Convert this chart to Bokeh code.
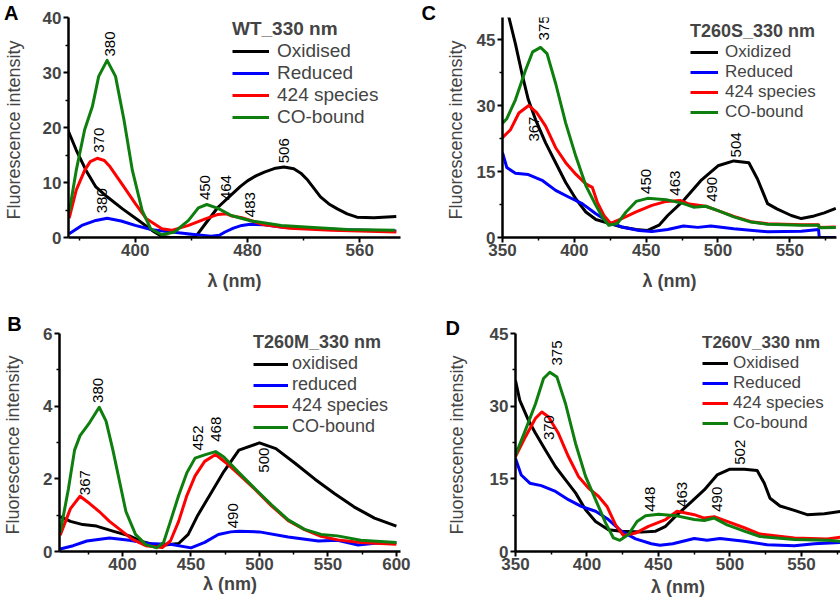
import math
from bokeh.plotting import figure
from bokeh.models import (Legend, LegendItem, LabelSet, Label, ColumnDataSource,
                          FixedTicker, Range1d)
from bokeh.core.properties import value
from bokeh.layouts import column, row
from bokeh.embed import file_html
from bokeh.resources import INLINE

# ---------------- data ----------------
# Panel A : WT_330 nm
A_ox_x = [352, 358, 365, 372, 380, 391, 402.5, 412, 419, 425, 435, 443, 450, 459, 469, 475, 480, 486, 492, 500, 506, 513, 518, 523, 532, 538, 544, 551, 558, 570, 586]
A_ox_y = [19.6, 15.9, 12.2, 9.2, 7.4, 5.2, 3.1, 1.3, 0.2, 0.0, 0.0, 0.1, 2.5, 5.5, 7.9, 9.3, 10.3, 11.2, 11.9, 12.6, 12.8, 12.5, 11.7, 10.4, 7.4, 6.1, 5.2, 4.3, 3.7, 3.6, 3.8]
A_red_x = [353, 358, 364, 368, 373, 378, 382, 392, 400, 408, 419, 426, 438, 450, 459, 465, 469, 476, 492, 510, 540, 586]
A_red_y = [3.5, 8.6, 12.2, 13.8, 14.4, 14.0, 12.9, 9.2, 6.2, 3.4, 1.6, 1.3, 2.2, 3.4, 4.2, 4.3, 3.9, 3.6, 2.3, 1.7, 1.3, 1.0]
A_blue_x = [353, 362, 372, 380, 390, 400, 412, 426, 442, 454, 460, 464, 470, 476, 482, 492, 504, 520, 550, 586]
A_blue_y = [0.7, 2.2, 3.1, 3.5, 3.0, 2.2, 1.4, 1.0, 0.55, 0.25, 0.4, 1.0, 1.7, 2.2, 2.4, 2.3, 1.9, 1.7, 1.4, 1.2]
A_co_x = [353, 358, 364, 369.5, 374, 380, 386, 392, 398, 405, 411, 419, 428, 438, 445, 451, 459, 468.5, 475.5, 483, 504, 527, 551, 585]
A_co_y = [4.6, 12.2, 19.6, 23.8, 29.3, 32.2, 29.3, 21.4, 12.2, 4.9, 1.6, 0.5, 1.0, 3.1, 5.4, 6.0, 5.3, 4.0, 3.5, 3.0, 2.2, 1.8, 1.45, 1.3]
A_peak_x = [382, 374.4, 376.5, 449.4, 465, 482, 506]
A_peak_y = [32.9, 15.4, 4.4, 6.8, 6.8, 3.7, 13.5]
A_peak_text = ["380", "370", "380", "450", "464", "483", "506"]
A_labels = ["Oxidised", "Reduced", "424 species", "CO-bound"]

# Panel C : T260S_330 nm
C_ox_x = [350, 354.5, 359, 364, 368, 373, 380, 387, 394, 401, 408, 415, 424, 433, 443, 451, 459, 465, 476, 488, 500, 511, 521.5, 527.5, 534.5, 541, 551, 558, 567, 574, 582]
C_ox_y = [56, 50, 44, 36.6, 31.3, 26.8, 21.5, 17, 12.5, 8.8, 5.8, 4.1, 3.2, 2.4, 1.8, 1.6, 2.8, 5.0, 8.4, 12.9, 16.3, 17.4, 17.0, 13.3, 7.7, 6.5, 5.0, 4.3, 4.9, 5.6, 6.6]
C_red_x = [350, 355.6, 361.4, 368.3, 374, 380, 387, 394, 401, 408, 412.5, 416, 420.6, 425.3, 433, 443, 454, 464, 474, 480, 491.5, 500, 511, 523, 534.5, 558, 570, 570.5, 582]
C_red_y = [22.7, 24.5, 28.3, 30.0, 28.3, 25.3, 20.4, 17.0, 14.4, 12.2, 11.4, 8.0, 5.0, 3.2, 4.3, 5.8, 7.3, 8.2, 8.4, 7.6, 7.1, 6.1, 4.8, 3.6, 3.1, 2.9, 2.9, 2.3, 2.4]
C_blue_x = [350, 353, 359, 368, 378, 387, 396, 405.5, 415, 424, 433, 445, 454, 465, 476, 486, 495, 511, 534.5, 558, 570, 570.5, 582]
C_blue_y = [19.3, 15.9, 14.6, 14.3, 12.9, 10.7, 9.2, 7.7, 5.4, 3.5, 2.4, 1.6, 1.35, 1.8, 2.6, 2.3, 2.6, 2.0, 1.3, 1.4, 1.8, 0.0, 0.0]
C_co_x = [350, 353, 359, 366, 371, 376.5, 381, 387, 394, 401, 408, 415, 420, 424, 430, 436, 443, 451, 464, 476, 483, 491.5, 500, 511, 523, 534.5, 558, 570, 570.5, 582]
C_co_y = [26, 27, 31.3, 38, 42.2, 43.2, 41.8, 35, 26, 18.5, 11.8, 7.3, 4.4, 2.8, 3.2, 5.8, 8.2, 8.9, 8.6, 7.7, 6.9, 7.1, 6.1, 4.7, 3.5, 3.0, 2.8, 2.8, 2.2, 2.3]
C_peak_x = [378.8, 371.8, 449.7, 469.9, 496, 512.4]
C_peak_y = [44.8, 21.8, 9.9, 9.5, 8.1, 18.2]
C_peak_text = ["375", "367", "450", "463", "490", "504"]
C_labels = ["Oxidized", "Reduced", "424 species", "CO-bound"]

# Panel B : T260M_330 nm
B_ox_x = [354.5, 362, 371, 381, 393, 405, 414, 426, 441, 448, 455, 465, 474, 485, 500, 512, 526, 540.5, 555, 569, 584, 600]
B_ox_y = [0.96, 0.83, 0.74, 0.7, 0.56, 0.43, 0.28, 0.16, 0.22, 0.47, 1.0, 1.63, 2.2, 2.79, 2.99, 2.83, 2.43, 1.99, 1.59, 1.23, 0.92, 0.7]
B_red_x = [354.5, 362, 369, 376, 383, 390.5, 398, 407, 417, 429, 435, 441, 447, 453, 460, 468, 476, 485, 497, 509, 521, 533, 545, 557, 574, 600]
B_red_y = [0.45, 1.18, 1.52, 1.32, 1.1, 0.83, 0.61, 0.34, 0.16, 0.11, 0.29, 0.83, 1.54, 2.08, 2.48, 2.67, 2.43, 2.12, 1.7, 1.25, 0.85, 0.6, 0.42, 0.32, 0.25, 0.2]
B_blue_x = [354.5, 364, 374, 390.5, 405, 419, 436, 450, 460, 470, 479, 485, 500, 521, 543, 557, 572, 584, 600]
B_blue_y = [0.07, 0.16, 0.29, 0.37, 0.31, 0.22, 0.19, 0.1, 0.25, 0.47, 0.54, 0.56, 0.54, 0.4, 0.29, 0.31, 0.18, 0.23, 0.25]
B_co_x = [354.5, 360.5, 365, 369, 376, 383, 388, 393, 398, 402.5, 409.5, 417, 425, 430, 435, 441, 447, 453, 460, 468, 474, 485, 497, 509, 521, 533, 545, 557, 574, 600]
B_co_y = [0.52, 1.72, 2.79, 3.19, 3.55, 3.97, 3.59, 2.79, 1.9, 1.1, 0.47, 0.19, 0.1, 0.25, 0.83, 1.54, 2.17, 2.57, 2.66, 2.75, 2.6, 2.17, 1.72, 1.28, 0.87, 0.61, 0.47, 0.43, 0.31, 0.25]
B_peak_x = [382.3, 372.7, 455.4, 468.6, 503.4, 480.6]
B_peak_y = [4.09, 1.55, 2.78, 3.02, 2.17, 0.64]
B_peak_text = ["380", "367", "452", "468", "500", "490"]
B_labels = ["oxidised", "reduced", "424 species", "CO-bound"]

# Panel D : T260V_330 nm
D_ox_x = [350, 353, 359, 364, 371, 378, 385, 392, 399, 406, 415, 424, 438, 448, 455, 462, 472, 482, 491, 500, 510, 519, 524, 528, 535, 545, 554, 566, 578]
D_ox_y = [35.3, 31.2, 27.1, 24.4, 20.9, 17.5, 14.8, 12.1, 8.6, 6.2, 4.5, 4.2, 4.0, 4.2, 5.2, 7.3, 10.0, 12.7, 15.8, 17.0, 17.0, 16.7, 14.1, 11.0, 9.4, 8.5, 7.6, 7.8, 8.3]
D_red_x = [350, 357, 364, 368.4, 373, 380, 387, 394, 401, 408, 414, 420, 425.5, 434, 443, 455, 463, 475, 482, 489, 498, 510, 521, 545, 568, 578]
D_red_y = [19.6, 23.7, 27.5, 28.8, 27.8, 24.4, 19.6, 15.5, 13.1, 11.4, 9.3, 5.5, 3.3, 3.8, 5.2, 6.6, 8.3, 7.6, 6.9, 7.2, 6.2, 4.9, 3.6, 2.8, 2.6, 3.0]
D_blue_x = [350, 354, 360, 368, 378, 387, 396, 406, 415, 424, 434, 445, 451, 460, 475, 484, 493, 510, 526, 545, 559, 578]
D_blue_y = [19.2, 15.8, 14.1, 13.6, 12.4, 10.7, 9.3, 8.3, 6.6, 4.2, 2.6, 1.6, 1.3, 1.6, 2.7, 2.3, 2.7, 2.1, 1.4, 1.2, 1.6, 1.9]
D_co_x = [350, 357, 364, 369.6, 374, 379, 385, 392, 399, 406, 413, 418.5, 423, 429, 435, 441, 450, 462, 475, 482, 489, 498, 510, 521, 545, 568, 578]
D_co_y = [19.9, 25.1, 30.5, 35.7, 37.0, 36.0, 30.5, 22.3, 15.5, 10.7, 5.9, 2.8, 2.3, 3.5, 6.2, 7.4, 7.7, 7.4, 6.6, 6.4, 6.9, 5.5, 4.2, 3.1, 2.5, 2.3, 2.1]
D_peak_x = [379.1, 373.3, 443.9, 466.6, 491, 507.3]
D_peak_y = [38.4, 23, 8.2, 9.2, 8.2, 17.9]
D_peak_text = ["375", "370", "448", "463", "490", "502"]
D_labels = ["Oxidised", "Reduced", "424 species", "Co-bound"]

COLORS = ["#000000", "#0000ff", "#ff0000", "#0e7f0e"]
FONT = "Liberation Sans"


def panel(letter, title, labels, series, peaks, xr, yr, xt, xmt, yt, ymt,
          w, h, borders, letter_px, letter_side, st):
    bl, br, bt, bb = borders
    p = figure(width=w, height=h, x_range=Range1d(*xr), y_range=Range1d(*yr),
               output_backend="svg", toolbar_location=None,
               min_border_left=bl, min_border_right=br, min_border_top=bt,
               min_border_bottom=bb)
    p.outline_line_color = None
    p.grid.visible = False
    p.xaxis.ticker = FixedTicker(ticks=xt, minor_ticks=xmt)
    p.yaxis.ticker = FixedTicker(ticks=yt, minor_ticks=ymt)
    for ax in (p.xaxis[0], p.yaxis[0]):
        ax.axis_line_width = 2.5
        ax.major_tick_line_width = 2
        ax.minor_tick_line_width = 1.5
        ax.major_tick_out = 5
        ax.major_tick_in = 0
        ax.minor_tick_out = 3
        ax.minor_tick_in = 0
        ax.major_label_text_font = FONT
        ax.major_label_text_font_style = "bold"
        ax.major_label_text_font_size = "17px"
        ax.axis_label_text_font = FONT
        ax.axis_label_text_font_size = "18px"
    p.xaxis.major_label_standoff = 1
    p.yaxis.major_label_standoff = 2
    p.xaxis.axis_label = "λ (nm)"
    p.xaxis.axis_label_text_font_style = "bold"
    p.xaxis.axis_label_standoff = st["xls"]
    p.yaxis.axis_label = "Fluorescence  intensity"
    p.yaxis.axis_label_text_font_style = "normal"
    p.yaxis.axis_label_standoff = st["yls"]

    rends = []
    for (xs, ys), c in zip(series, COLORS):
        r = p.line(xs, ys, line_color=c, line_width=3, line_join="round")
        rends.append(r)

    px, py, pt = peaks
    src = ColumnDataSource(dict(x=px, y=py, text=pt))
    p.add_layout(LabelSet(x="x", y="y", text="text", source=src, angle=math.pi / 2,
                          text_align="left", text_baseline="middle",
                          text_font=value(FONT), text_font_size=value("15px"),
                          text_color="black"))

    # panel letter: converted from a pixel offset (relative to the frame's top-left)
    fw = w - bl - br
    fh = h - bt - bb
    lx = xr[0] + letter_px[0] * (xr[1] - xr[0]) / fw
    ly = yr[1] + letter_px[1] * (yr[1] - yr[0]) / fh
    p.add_layout(Label(x=lx, y=ly, text=letter, text_font=FONT, text_font_style="bold",
                       text_font_size="20px", text_align="left", text_baseline="top",
                       text_color="black"), letter_side)

    legend = Legend(items=[LegendItem(label=l, renderers=[r]) for l, r in zip(labels, rends)],
                    location=st["loc"], title=title,
                    title_text_font=FONT, title_text_font_style="bold",
                    title_text_font_size=st["tfs"], title_standoff=0,
                    label_text_font=FONT, label_text_font_size=st["fs"],
                    glyph_width=st["gw"], glyph_height=20, label_height=20,
                    label_standoff=st["ls"], spacing=0, padding=0, margin=0,
                    border_line_color=None, background_fill_alpha=0)
    p.add_layout(legend)
    return p


pA = panel("A", "WT_330 nm", A_labels,
           [(A_ox_x, A_ox_y), (A_blue_x, A_blue_y), (A_red_x, A_red_y), (A_co_x, A_co_y)],
           (A_peak_x, A_peak_y, A_peak_text),
           (352.5, 589), (0, 40), [400, 480, 560], [360, 440, 520],
           [0, 10, 20, 30, 40], [5, 15, 25, 35],
           420, 300, (66, 20, 17, 63), (-65, 16), "right",
           dict(loc=(164, 109), fs="19px", tfs="19px", gw=37, ls=8, xls=12, yls=16))

pC = panel("C", "T260S_330 nm", C_labels,
           [(C_ox_x, C_ox_y), (C_blue_x, C_blue_y), (C_red_x, C_red_y), (C_co_x, C_co_y)],
           (C_peak_x, C_peak_y, C_peak_text),
           (350, 582.5), (0, 50), [350, 400, 450, 500, 550], [375, 425, 475, 525, 575],
           [0, 15, 30, 45], [7.5, 22.5, 37.5],
           420, 300, (82, 4, 17, 61), (-81, 16), "left",
           dict(loc=(188, 115), fs="17px", tfs="18px", gw=28, ls=7, xls=12, yls=8))

pB = panel("B", "T260M_330 nm", B_labels,
           [(B_ox_x, B_ox_y), (B_blue_x, B_blue_y), (B_red_x, B_red_y), (B_co_x, B_co_y)],
           (B_peak_x, B_peak_y, B_peak_text),
           (354, 603), (0, 6), [400, 450, 500, 550, 600], [375, 425, 475, 525, 575],
           [0, 2, 4, 6], [1, 3, 5],
           420, 302, (54, 20, 27, 51), (-53, 21), "right",
           dict(loc=(194, 114), fs="18px", tfs="18px", gw=35, ls=4, xls=1, yls=17))

pD = panel("D", "T260V_330 nm", D_labels,
           [(D_ox_x, D_ox_y), (D_blue_x, D_blue_y), (D_red_x, D_red_y), (D_co_x, D_co_y)],
           (D_peak_x, D_peak_y, D_peak_text),
           (350, 577.3), (0, 45), [350, 400, 450, 500, 550], [375, 425, 475, 525, 575],
           [0, 15, 30, 45], [7.5, 22.5, 37.5],
           420, 302, (95, 0, 33, 51), (-70, 17), "left",
           dict(loc=(187, 118), fs="17px", tfs="17px", gw=26, ls=5, xls=4, yls=20))

layout = column(row(pA, pC), row(pB, pD))

open("out.html", "w").write(file_html(layout, INLINE))
